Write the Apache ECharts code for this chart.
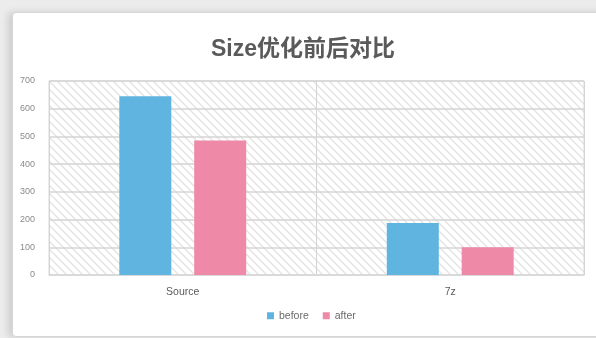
<!DOCTYPE html>
<html>
<head>
<meta charset="utf-8">
<script src="https://cdn.jsdelivr.net/npm/echarts@6/dist/echarts.min.js"></script>
<style>
  html, body { margin: 0; padding: 0; width: 596px; height: 338px; overflow: hidden; background: #ececec; }
  #frame { position: absolute; left: 12px; top: 12px; width: 600px; height: 323px; background: #fff;
           border: 1px solid #d6d6d6; border-radius: 4px; box-shadow: -4px 0 7px rgba(0,0,0,0.13); }
  #chart { position: absolute; left: 0; top: 0; width: 596px; height: 338px; }
</style>
</head>
<body>
<div id="frame"></div>
<div id="chart"></div>
<script>
const titleText = 'Size优化前后对比';
const categories = ['Source', '7z'];
const seriesNames = ['before', 'after'];
const beforeValues = [645, 188];
const afterValues = [485, 100];
const yTicks = [0, 100, 200, 300, 400, 500, 600, 700];

function makeHatch() {
  const c = document.createElement('canvas');
  const s = 8;
  c.width = s; c.height = s;
  const g = c.getContext('2d');
  g.fillStyle = '#ffffff';
  g.fillRect(0, 0, s, s);
  g.strokeStyle = '#e2e2e2';
  g.lineWidth = 1.3;
  g.beginPath();
  g.moveTo(0, 0); g.lineTo(s, s);
  g.moveTo(-s, 0); g.lineTo(s, 2 * s);
  g.moveTo(0, -s); g.lineTo(2 * s, s);
  g.stroke();
  return c;
}

const chart = echarts.init(document.getElementById('chart'), null, { renderer: 'canvas' });
const font = '"Liberation Sans", "Noto Sans CJK SC", sans-serif';
chart.setOption({
  backgroundColor: 'transparent',
  animation: false,
  title: {
    text: titleText,
    left: 206,
    top: 33,
    textStyle: { fontFamily: font, fontSize: 23, fontWeight: 'bold', color: '#5a5a5a' }
  },
  legend: {
    data: seriesNames,
    bottom: 12,
    left: 262,
    itemWidth: 7,
    itemHeight: 7,
    itemGap: 14,
    icon: 'rect',
    textStyle: { fontFamily: font, fontSize: 10.5, color: '#6a6a6a' }
  },
  grid: {
    left: 49, right: 12, top: 81, bottom: 63,
    show: true,
    backgroundColor: { image: makeHatch(), repeat: 'repeat' },
    borderColor: '#d9d9d9',
    borderWidth: 1
  },
  xAxis: {
    type: 'category',
    data: categories,
    axisLine: { show: true, lineStyle: { color: '#d9d9d9' } },
    axisTick: { show: false },
    splitLine: { show: true, lineStyle: { color: '#d4d4d4', width: 1 } },
    axisLabel: { fontFamily: font, fontSize: 10.5, color: '#5a5a5a', margin: 12 }
  },
  yAxis: {
    type: 'value',
    min: yTicks[0],
    max: yTicks[yTicks.length - 1],
    interval: yTicks[1] - yTicks[0],
    axisLine: { show: false },
    axisTick: { show: false },
    splitLine: { show: true, lineStyle: { color: '#d4d4d4', width: 1.5 } },
    axisLabel: { fontFamily: font, fontSize: 9, color: '#8a8a8a', margin: 14 }
  },
  series: [
    { name: seriesNames[0], type: 'bar', data: beforeValues, barWidth: 52, barGap: '44%',
      itemStyle: { color: '#60b5e0' } },
    { name: seriesNames[1], type: 'bar', data: afterValues, barWidth: 52,
      itemStyle: { color: '#ee8aa7' } }
  ]
});
</script>
</body>
</html>
